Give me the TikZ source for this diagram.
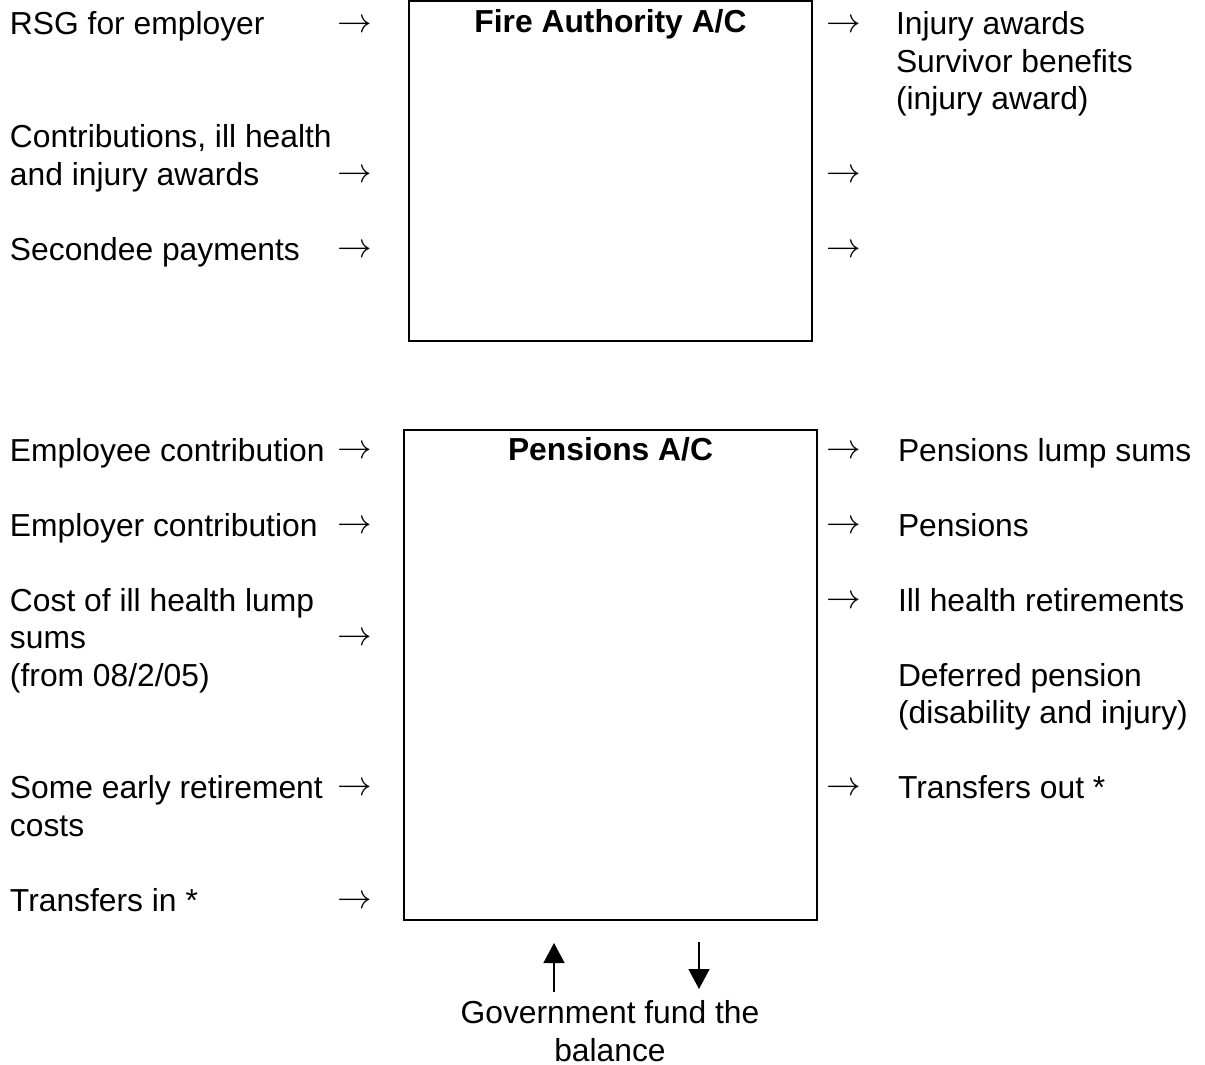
\documentclass[tikz,border=0pt]{standalone}
\usepackage{fontspec}
\setmainfont{Liberation Sans}
\usetikzlibrary{arrows.meta}
\tikzstyle{item}  =[anchor=base west, align=left, inner sep=0pt, outer sep=0pt]
\tikzstyle{into}  =[inner sep=0pt]
\tikzstyle{acct}  =[draw, line width=1.4pt, inner sep=0pt]
\tikzstyle{fund}  =[line width=0.8pt, -{Triangle[width=10.5pt,length=10pt]}]

\begin{document}
\begin{tikzpicture}[x=0.5pt, y=-0.5pt, font=\fontsize{15.9}{18.75}\selectfont]
    \useasboundingbox (0,0) rectangle (1205,1065);
    % the two accounts
    \node (fire) [acct, minimum width=201.5pt, minimum height=170pt] at (610.5,171) {};
    \node (pens) [acct, minimum width=206.5pt, minimum height=245pt] at (610.5,675) {};
    \node (firetitle) [anchor=base, inner sep=0pt] at (610.5,33) {\bfseries Fire Authority A/C};
    \node (penstitle) [anchor=base, inner sep=0pt] at (610.5,460) {\bfseries Pensions A/C};

    % fire authority account, in and out (base = last line)
    \node (rsg) [item] at (10,35) {RSG for employer};
    \node (contrib) [item] at (10,185) {Contributions, ill health\\and injury awards};
    \node (secondee) [item] at (10,260) {Secondee payments};
    \node (rsgin) [into] at (355,26) {$\rightarrow$};
    \node (contribin) [into] at (355,176) {$\rightarrow$};
    \node (secondeein) [into] at (355,251) {$\rightarrow$};
    \node (injout) [into] at (844,26) {$\rightarrow$};
    \node (fireoutb) [into] at (844,176) {$\rightarrow$};
    \node (fireoutc) [into] at (844,251) {$\rightarrow$};
    \node (injury) [item] at (896,110) {Injury awards\\Survivor benefits\\(injury award)};

    % pensions account, in and out
    \node (employee) [item] at (10,461) {Employee contribution};
    \node (employer) [item] at (10,536) {Employer contribution};
    \node (illcost) [item] at (10,686) {Cost of ill health lump\\sums\\(from 08/2/05)};
    \node (early) [item] at (10,836) {Some early retirement\\costs};
    \node (transin) [item] at (10,911) {Transfers in *};
    \node (employeein) [into] at (355,452) {$\rightarrow$};
    \node (employerin) [into] at (355,527) {$\rightarrow$};
    \node (illcostin) [into] at (355,639.5) {$\rightarrow$};
    \node (earlyin) [into] at (355,789.5) {$\rightarrow$};
    \node (transinin) [into] at (355,902) {$\rightarrow$};
    \node (lumpout) [into] at (844,452) {$\rightarrow$};
    \node (pensout) [into] at (844,527) {$\rightarrow$};
    \node (illretout) [into] at (844,602) {$\rightarrow$};
    \node (transoutout) [into] at (844,789.5) {$\rightarrow$};
    \node (lumpsums) [item] at (898,461) {Pensions lump sums};
    \node (pensions) [item] at (898,536) {Pensions};
    \node (illret) [item] at (898,611) {Ill health retirements};
    \node (deferred) [item] at (898,723.5) {Deferred pension\\(disability and injury)};
    \node (transout) [item] at (898,798.5) {Transfers out *};

    % balance from government
    \coordinate (upfoot) at (554,992); \coordinate (uptip) at (554,943);
    \coordinate (downfoot) at (699,942); \coordinate (downtip) at (699,989);
    \draw[fund] (upfoot) -- (uptip); \draw[fund] (downfoot) -- (downtip);
    \node (gov) [anchor=base, align=center, inner sep=0pt] at (610,1061) {Government fund the\\balance};
\end{tikzpicture}
\end{document}
